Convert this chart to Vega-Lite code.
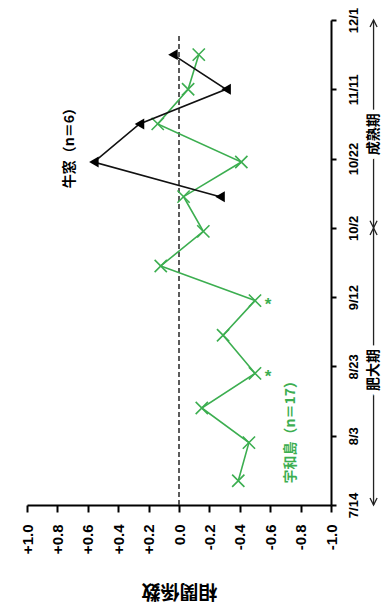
{
  "$schema": "https://vega.github.io/schema/vega-lite/v6.json",
  "width": 304,
  "height": 485,
  "autosize": {"type": "none"},
  "padding": {"left": 27, "top": 20, "right": 51, "bottom": 105},
  "background": "white",
  "config": {"view": {"stroke": null}, "font": "Liberation Sans"},
  "datasets": {
    "uwajima": [
      {"date": "2019-07-21", "r": -0.39, "sig": false},
      {"date": "2019-08-01", "r": -0.46, "sig": false},
      {"date": "2019-08-11", "r": -0.15, "sig": false},
      {"date": "2019-08-21", "r": -0.50, "sig": true},
      {"date": "2019-09-01", "r": -0.29, "sig": false},
      {"date": "2019-09-11", "r": -0.50, "sig": true},
      {"date": "2019-09-21", "r": 0.12, "sig": false},
      {"date": "2019-10-01", "r": -0.16, "sig": false},
      {"date": "2019-10-11", "r": -0.03, "sig": false},
      {"date": "2019-10-21", "r": -0.41, "sig": false},
      {"date": "2019-11-01", "r": 0.14, "sig": false},
      {"date": "2019-11-11", "r": -0.06, "sig": false},
      {"date": "2019-11-21", "r": -0.13, "sig": false}
    ],
    "ushimado": [
      {"date": "2019-10-11", "r": -0.27},
      {"date": "2019-10-21", "r": 0.56},
      {"date": "2019-11-01", "r": 0.26},
      {"date": "2019-11-11", "r": -0.31},
      {"date": "2019-11-21", "r": 0.04}
    ],
    "zero": [
      {"r": 0, "date": "2019-07-14", "date_end": "2019-11-27"}
    ],
    "sites": [
      {"site": "牛窓", "label": "牛窓（n＝6）", "r": 0.72, "date": "2019-10-26"},
      {"site": "宇和島", "label": "宇和島（n＝17）", "r": -0.74, "date": "2019-08-05"}
    ],
    "periods": [
      {"period": "肥大期", "r": -1.28, "start": "2019-07-14", "end": "2019-10-02", "date": "2019-08-22"},
      {"period": "成熟期", "r": -1.28, "start": "2019-10-02", "end": "2019-12-01", "date": "2019-10-29"}
    ]
  },
  "encoding": {
    "x": {
      "field": "r",
      "type": "quantitative",
      "scale": {"domain": [-1, 1], "reverse": true, "nice": false, "zero": false},
      "axis": {
        "orient": "bottom",
        "values": [1, 0.8, 0.6, 0.4, 0.2, 0, -0.2, -0.4, -0.6, -0.8, -1],
        "labelExpr": "datum.value > 0.001 ? format(datum.value, '+.1f') : (datum.value < -0.001 ? '-' + format(-datum.value, '.1f') : '0.0')",
        "labelAngle": 270,
        "labelAlign": "right",
        "labelBaseline": "middle",
        "labelFont": "Liberation Sans",
        "labelFontWeight": "bold",
        "labelFontSize": 15,
        "labelColor": "black",
        "labelPadding": 12,
        "labelFlush": false,
        "labelOverlap": false,
        "tickSize": 7,
        "tickWidth": 2,
        "tickColor": "black",
        "domainWidth": 2,
        "domainColor": "black",
        "grid": false,
        "title": "相関係数",
        "titleFont": "Noto Sans CJK JP",
        "titleFontSize": 19,
        "titleFontWeight": "bold",
        "titleColor": "black",
        "titleAngle": 180,
        "titleY": 85,
        "titleAlign": "center",
        "titleBaseline": "middle"
      }
    },
    "y": {
      "field": "date",
      "type": "temporal",
      "scale": {
        "type": "utc",
        "domain": [
          {"year": 2019, "month": 7, "date": 14, "utc": true},
          {"year": 2019, "month": 12, "date": 1, "utc": true}
        ]
      },
      "axis": {
        "orient": "right",
        "values": [
          {"year": 2019, "month": 7, "date": 14, "utc": true},
          {"year": 2019, "month": 8, "date": 3, "utc": true},
          {"year": 2019, "month": 8, "date": 23, "utc": true},
          {"year": 2019, "month": 9, "date": 12, "utc": true},
          {"year": 2019, "month": 10, "date": 2, "utc": true},
          {"year": 2019, "month": 10, "date": 22, "utc": true},
          {"year": 2019, "month": 11, "date": 11, "utc": true},
          {"year": 2019, "month": 12, "date": 1, "utc": true}
        ],
        "labelExpr": "utcFormat(datum.value, '%-m/%-d')",
        "labelAngle": 270,
        "labelAlign": "center",
        "labelBaseline": "top",
        "labelFont": "Liberation Sans",
        "labelFontWeight": "bold",
        "labelFontSize": 13,
        "labelColor": "black",
        "labelPadding": 11,
        "labelFlush": false,
        "labelOverlap": false,
        "tickSize": 5,
        "tickWidth": 2,
        "tickColor": "black",
        "domainWidth": 2,
        "domainColor": "black",
        "grid": false,
        "title": null
      }
    }
  },
  "layer": [
    {
      "data": {"name": "zero"},
      "mark": {"type": "rule", "color": "#333333", "strokeWidth": 1.6, "strokeDash": [5, 3]},
      "encoding": {"y2": {"field": "date_end"}}
    },
    {
      "data": {"name": "uwajima"},
      "mark": {"type": "line", "color": "#3cae50", "strokeWidth": 1.6},
      "encoding": {}
    },
    {
      "data": {"name": "uwajima"},
      "mark": {"type": "point", "shape": "M-1,-1L1,1M-1,1L1,-1", "size": 150, "color": "#3cae50", "strokeWidth": 1.6, "opacity": 1, "filled": false},
      "encoding": {}
    },
    {
      "data": {"name": "uwajima"},
      "transform": [{"filter": "datum.sig"}],
      "mark": {"type": "text", "text": "*", "color": "#3cae50", "font": "Liberation Sans", "fontWeight": "bold", "fontSize": 17, "dx": 13, "dy": 4, "align": "center", "baseline": "middle"},
      "encoding": {}
    },
    {
      "data": {"name": "ushimado"},
      "mark": {"type": "line", "color": "#111111", "strokeWidth": 1.6},
      "encoding": {}
    },
    {
      "data": {"name": "ushimado"},
      "mark": {"type": "point", "shape": "triangle-left", "size": 120, "filled": true, "color": "#000000", "opacity": 1},
      "encoding": {}
    },
    {
      "data": {"name": "sites"},
      "mark": {"type": "text", "font": "Noto Sans CJK JP", "fontWeight": "bold", "fontSize": 14, "angle": 270, "align": "center", "baseline": "middle"},
      "encoding": {
        "text": {"field": "label"},
        "color": {"field": "site", "type": "nominal", "scale": {"domain": ["宇和島", "牛窓"], "range": ["#3cae50", "#000000"]}, "legend": null}
      }
    },
    {
      "data": {"name": "periods"},
      "mark": {"type": "rule", "color": "#222222", "strokeWidth": 1.3},
      "encoding": {
        "y": {"field": "start", "type": "temporal"},
        "y2": {"field": "end"}
      }
    },
    {
      "data": {"name": "periods"},
      "mark": {"type": "point", "shape": "M-0.5,-1L0,0L0.5,-1", "size": 200, "color": "#222222", "strokeWidth": 1.3, "opacity": 1, "filled": false},
      "encoding": {"y": {"field": "start", "type": "temporal"}}
    },
    {
      "data": {"name": "periods"},
      "mark": {"type": "point", "shape": "M-0.5,1L0,0L0.5,1", "size": 200, "color": "#222222", "strokeWidth": 1.3, "opacity": 1, "filled": false},
      "encoding": {"y": {"field": "end", "type": "temporal"}}
    },
    {
      "data": {"name": "periods"},
      "mark": {"type": "text", "font": "Noto Sans CJK JP", "fontWeight": "bold", "fontSize": 14, "angle": 270, "align": "center", "baseline": "middle", "color": "white", "stroke": "white", "strokeWidth": 9},
      "encoding": {"text": {"field": "period"}}
    },
    {
      "data": {"name": "periods"},
      "mark": {"type": "text", "font": "Noto Sans CJK JP", "fontWeight": "bold", "fontSize": 14, "angle": 270, "align": "center", "baseline": "middle", "color": "#000000"},
      "encoding": {"text": {"field": "period"}}
    }
  ]
}
